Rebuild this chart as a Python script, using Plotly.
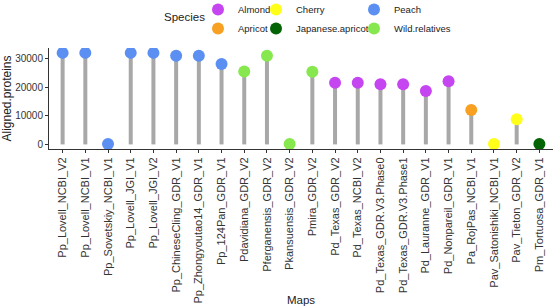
import plotly.graph_objects as go

maps = ["Pp_Lovell_NCBI_V2", "Pp_Lovell_NCBI_V1", "Pp_Sovetskiy_NCBI_V1", "Pp_Lovell_JGI_V1",
        "Pp_Lovell_JGI_V2", "Pp_ChineseCling_GDR_V1", "Pp_Zhongyoutao14_GDR_V1", "Pp_124Pan_GDR_V1",
        "Pdavidiana_GDR_V2", "Pferganensis_GDR_V2", "Pkansuensis_GDR_V2", "Pmira_GDR_V2",
        "Pd_Texas_GDR_V2", "Pd_Texas_NCBI_V2", "Pd_Texas_GDR.V3.Phase0", "Pd_Texas_GDR.V3.Phase1",
        "Pd_Lauranne_GDR_V1", "Pd_Nonpareil_GDR_V1", "Pa_RojPas_NCBI_V1", "Pav_Satonishiki_NCBI_V1",
        "Pav_Tieton_GDR_V2", "Pm_Tortuosa_GDR_V1"]
aligned = [31900, 31900, 150, 31900, 31900, 30900, 30900, 28000, 25400, 30900, 150, 25300,
           21500, 21500, 21000, 21000, 18600, 22000, 12000, 150, 8800, 150]
species = ["Peach"] * 8 + ["Wild.relatives"] * 4 + ["Almond"] * 6 + ["Apricot", "Cherry", "Cherry", "Japanese.apricot"]
y_ticks = [0, 10000, 20000, 30000]

species_order = ["Almond", "Apricot", "Cherry", "Japanese.apricot", "Peach", "Wild.relatives"]
colors = {"Almond": "#C546F0", "Apricot": "#F7A021", "Cherry": "#FFFF1A",
          "Japanese.apricot": "#046304", "Peach": "#5B8FF2", "Wild.relatives": "#86E84E"}
legend_of = {"Almond": "legend", "Apricot": "legend", "Cherry": "legend2",
             "Japanese.apricot": "legend2", "Peach": "legend3", "Wild.relatives": "legend3"}

idx = list(range(len(maps)))

fig = go.Figure()
sx, sy = [], []
for i, v in zip(idx, aligned):
    sx += [i, i, None]
    sy += [0, v, None]
fig.add_trace(go.Scatter(x=sx, y=sy, mode="lines", line=dict(color="#A8A8A8", width=4),
                         showlegend=False, hoverinfo="skip"))
for sp in species_order:
    xs = [i for i, s in zip(idx, species) if s == sp]
    ys = [v for v, s in zip(aligned, species) if s == sp]
    fig.add_trace(go.Scatter(x=xs, y=ys, mode="markers", name=sp,
                             marker=dict(color=colors[sp], size=12, line=dict(width=0)),
                             legend=legend_of[sp]))

L, T, B = 49, 48, 157
PW, PH = 555 - L - 2, 306 - T - B
def px(x): return (x - L) / PW
def py(y): return (306 - B - y) / PH

REG = "Liberation Sans, Arial, sans-serif"
leg_common = dict(orientation="v", bgcolor="rgba(0,0,0,0)",
                  font=dict(family=REG, size=9.5, color="#222222"),
                  xref="paper", yref="paper", xanchor="left", yanchor="top",
                  tracegroupgap=0)
fig.update_layout(
    width=555, height=306,
    margin=dict(l=L, r=2, t=T, b=B, autoexpand=False),
    plot_bgcolor="white", paper_bgcolor="white",
    font=dict(family=REG, size=11, color="#333333"),
    legend=dict(x=px(198), y=py(-5), **leg_common),
    legend2=dict(x=px(256), y=py(-5), **leg_common),
    legend3=dict(x=px(354), y=py(-5), **leg_common),
    xaxis=dict(range=[-0.6, len(maps) - 0.4], tickmode="array", tickvals=idx, ticktext=maps,
               tickangle=-90, showgrid=False, zeroline=False,
               showline=True, linecolor="#333333", linewidth=1,
               ticks="outside", ticklen=3, tickcolor="#333333",
               tickfont=dict(family=REG, size=11, color="#333333"),
               title=dict(text="Maps", font=dict(family=REG, size=11.5, color="#222222"), standoff=13)),
    yaxis=dict(range=[-1600, 33600], tickmode="array", tickvals=y_ticks,
               ticktext=[str(v) for v in y_ticks],
               showgrid=False, zeroline=False, showline=True, linecolor="#333333", linewidth=1,
               ticks="outside", ticklen=3, tickcolor="#333333",
               tickfont=dict(family=REG, size=10, color="#333333"),
               title=dict(text="Aligned.proteins", font=dict(family=REG, size=12, color="#222222"), standoff=5)),
    annotations=[dict(text="Species", x=px(184.5), y=py(17), xref="paper", yref="paper",
                      showarrow=False, font=dict(family=REG, size=11.5, color="#222222"),
                      xanchor="center", yanchor="middle")],
)
fig.write_html("out.html")
